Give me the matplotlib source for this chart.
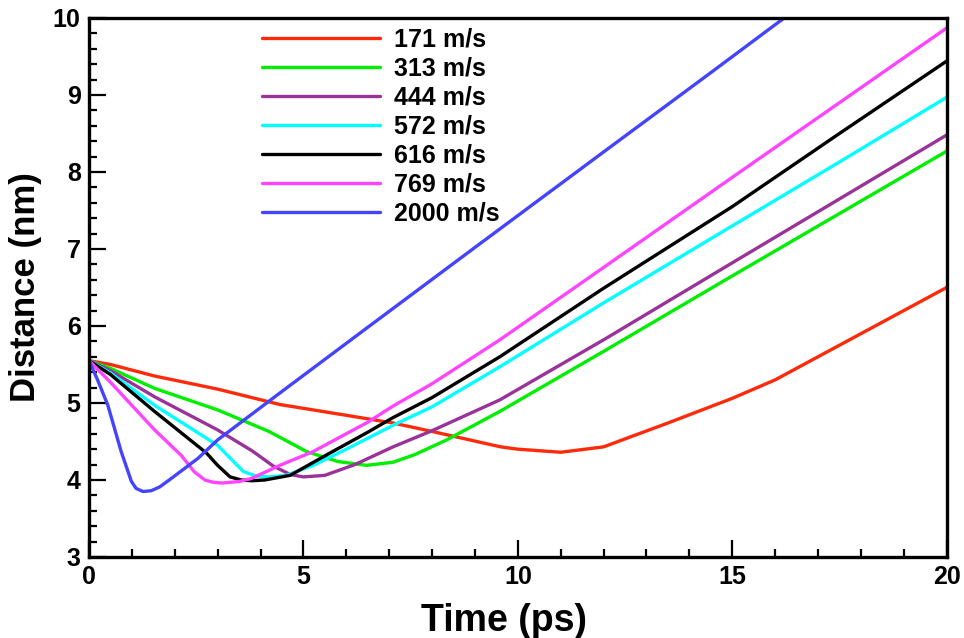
import numpy as np
import matplotlib
matplotlib.use("Agg")
import matplotlib.pyplot as plt
from matplotlib.ticker import MultipleLocator

plt.rcParams['font.family'] = ['Liberation Sans', 'DejaVu Sans']
plt.rcParams['font.weight'] = 'bold'

# ---- data ----
x_171 = [0, 0.5, 1.53, 3.0, 4.45, 6, 7.09, 8, 9.6, 10, 11, 12, 13.5, 15, 16, 17.5, 20]
y_171 = [5.55, 5.5, 5.35, 5.18, 4.98, 4.84, 4.74, 4.63, 4.43, 4.4, 4.36, 4.43, 4.74, 5.06, 5.30, 5.75, 6.5]

x_313 = [0, 0.5, 1.53, 3.0, 4.2, 5.07, 5.8, 6.47, 7.09, 7.6, 8.34, 9.58, 12, 15, 17.5, 20]
y_313 = [5.55, 5.45, 5.19, 4.91, 4.63, 4.37, 4.24, 4.19, 4.23, 4.33, 4.52, 4.89, 5.67, 6.65, 7.46, 8.27]

x_444 = [0, 0.5, 1.53, 3.0, 3.8, 4.3, 4.7, 5.0, 5.5, 6.2, 7.09, 8, 9.58, 12, 15, 17.5, 20]
y_444 = [5.55, 5.42, 5.08, 4.65, 4.38, 4.18, 4.07, 4.04, 4.06, 4.20, 4.43, 4.64, 5.04, 5.82, 6.82, 7.65, 8.48]

x_572 = [0, 0.5, 1.53, 3.0, 3.3, 3.6, 3.9, 4.2, 4.6, 5.23, 6.0, 7.09, 8, 9.58, 12, 15, 17.5, 20]
y_572 = [5.55, 5.39, 4.97, 4.45, 4.28, 4.11, 4.05, 4.04, 4.06, 4.19, 4.40, 4.71, 4.95, 5.47, 6.3, 7.3, 8.13, 8.97]

x_616 = [0, 0.5, 1.53, 2.74, 3.0, 3.29, 3.55, 3.8, 4.1, 4.69, 5.62, 6.5, 7.09, 8, 9.58, 12, 15, 17.5, 20]
y_616 = [5.55, 5.37, 4.89, 4.35, 4.19, 4.04, 4.0, 3.99, 4.0, 4.06, 4.35, 4.62, 4.81, 5.07, 5.60, 6.49, 7.55, 8.5, 9.44]

x_769 = [0, 0.5, 1.53, 2.15, 2.45, 2.7, 2.9, 3.1, 3.5, 3.79, 4.45, 5.23, 6.5, 7.09, 8, 9.58, 12, 15, 17.5, 20]
y_769 = [5.55, 5.27, 4.65, 4.32, 4.11, 4.0, 3.97, 3.96, 3.98, 4.02, 4.19, 4.37, 4.75, 4.96, 5.25, 5.82, 6.76, 7.93, 8.9, 9.87]

x_2000 = [0, 0.2, 0.44, 0.75, 0.99, 1.1, 1.26, 1.45, 1.65, 1.92, 2.54, 3.0, 4.5, 6.47, 9, 12, 14.5, 16.5]
y_2000 = [5.55, 5.3, 4.97, 4.37, 3.98, 3.89, 3.85, 3.86, 3.91, 4.02, 4.28, 4.52, 5.15, 5.97, 7.02, 8.26, 9.29, 10.12]

labels = ["171 m/s", "313 m/s", "444 m/s", "572 m/s", "616 m/s", "769 m/s", "2000 m/s"]
colors = ["#ff2a0a", "#00ee00", "#993399", "#00ffff", "#000000", "#ff44ff", "#4444ff"]

series = [(x_171, y_171), (x_313, y_313), (x_444, y_444), (x_572, y_572),
          (x_616, y_616), (x_769, y_769), (x_2000, y_2000)]

fig = plt.figure(figsize=(9.64, 6.38), dpi=100)
ax = fig.add_axes([0.0923, 0.127, 0.8897, 0.8448])

for (xs, ys), lab, c in zip(series, labels, colors):
    ax.plot(xs, ys, color=c, lw=2.4, label=lab,
            solid_capstyle='round', solid_joinstyle='round')

ax.set_xlim(0, 20)
ax.set_ylim(3, 10)
ax.xaxis.set_major_locator(MultipleLocator(5))
ax.xaxis.set_minor_locator(MultipleLocator(1))
ax.yaxis.set_major_locator(MultipleLocator(1))
ax.yaxis.set_minor_locator(MultipleLocator(0.2))

ax.tick_params(which='both', direction='in', top=False, right=False, width=1.6,
               labelsize=18, pad=6)
ax.tick_params(which='major', length=12)
ax.tick_params(which='minor', length=6)
for lab in ax.get_xticklabels() + ax.get_yticklabels():
    lab.set_fontweight('bold')

for sp in ax.spines.values():
    sp.set_linewidth(2.4)

ax.set_xlabel("Time (ps)", fontsize=27, fontweight='bold')
ax.xaxis.set_label_coords(0.484, -0.086)
ax.xaxis.label.set_verticalalignment('top')
ax.set_ylabel("Distance (nm)", fontsize=25, fontweight='bold', labelpad=8)

leg = ax.legend(loc='upper left', bbox_to_anchor=(0.1905, 1.0), frameon=False,
                fontsize=18, handlelength=4.7, handletextpad=0.55,
                labelspacing=0.2, borderaxespad=0)
for t in leg.get_texts():
    t.set_fontweight('bold')

fig.savefig("out.png", dpi=100)
